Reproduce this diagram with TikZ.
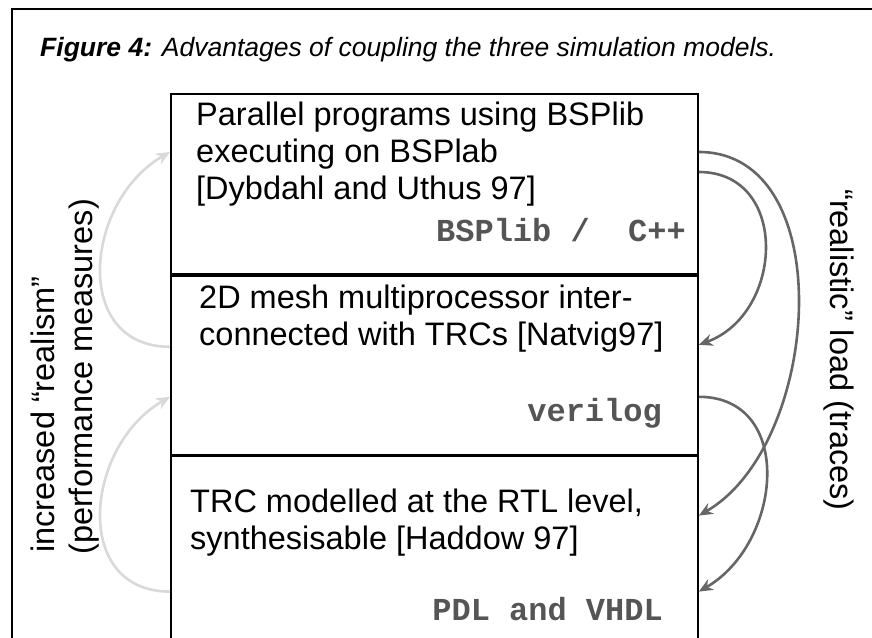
\documentclass[tikz,border=0pt]{standalone}
\usepackage{fontspec}
\setmainfont{Liberation Sans}
\setmonofont{Liberation Mono}
\usetikzlibrary{arrows.meta,positioning}
\definecolor{lightarr}{HTML}{D9D9D9}
\definecolor{darkarr}{HTML}{666666}
\definecolor{langgray}{HTML}{555555}

\begin{document}
\begin{tikzpicture}[x=1pt,y=1pt,>={Stealth[length=14pt,width=12pt]},
  box/.style={draw=black,line width=1.8pt,rectangle,inner sep=0pt,minimum width=527pt},
  desc/.style={align=left,inner sep=0pt,anchor=north west,font=\fontsize{32.5}{37}\selectfont},
  lang/.style={inner sep=0pt,anchor=base east,text=langgray,font=\fontsize{32}{37}\selectfont\ttfamily\bfseries},
  side/.style={inner sep=0pt,anchor=base west,font=\fontsize{32.5}{37}\selectfont},
  up/.style={->,draw=lightarr,line width=2.6pt},
  down/.style={->,draw=darkarr,line width=2.6pt}]
\clip (0,0) rectangle (872,637);
% frame and caption
\draw[line width=2.5pt] (872,628) -| (12,-5);
\node[inner sep=0pt,anchor=base west,font=\fontsize{26.5}{31}\selectfont\itshape] (caption) at (40,580)
  {\textbf{Figure 4:} Advantages of coupling the three simulation models.};
% the three models
\node[box,anchor=north west,minimum height=180pt] (bsp) at (170,544) {};
\node[box,minimum height=179pt,below=0pt of bsp] (mesh) {};
\node[box,minimum height=200pt,below=0pt of mesh] (trc) {};
\node[desc] (bsptext) at (196,535) {Parallel programs using BSPlib\\executing on BSPlab\\{}[Dybdahl and Uthus 97]};
\node[desc] (meshtext) at (199,352) {2D mesh multiprocessor inter-\\connected with TRCs [Natvig97]};
\node[desc] (trctext) at (190,148) {TRC modelled at the RTL level,\\synthesisable [Haddow 97]};
\node[lang] (bsplang) at (686,395) {BSPlib /\ \ C++};
\node[lang] (meshlang) at (662,215) {verilog};
\node[lang] (trclang) at (663,17) {PDL and VHDL};
% side texts
\node[side,rotate=90] (realism) at (54,84) {increased “realism”};
\node[side,rotate=90] (perf) at (92,82) {(performance measures)};
\node[side,rotate=-90] (load) at (830,448) {“realistic” load (traces)};
% arrows
\draw[up] ([yshift=-72pt]mesh.north west) to[out=180,in=210,looseness=1.3] ([yshift=-59pt]bsp.north west);
\draw[up] ([yshift=-136pt]trc.north west) to[out=180,in=210,looseness=1.3] ([yshift=-122pt]mesh.north west);
\draw[down] ([yshift=-79pt]bsp.north east) to[out=0,in=20,looseness=1.35] ([yshift=-70pt]mesh.north east);
\draw[down] ([yshift=-59pt]bsp.north east) to[out=0,in=30,looseness=1] ([yshift=-60pt]trc.north east);
\draw[down] ([yshift=-122pt]mesh.north east) to[out=0,in=30,looseness=1.27] ([yshift=-136pt]trc.north east);
\end{tikzpicture}
\end{document}
